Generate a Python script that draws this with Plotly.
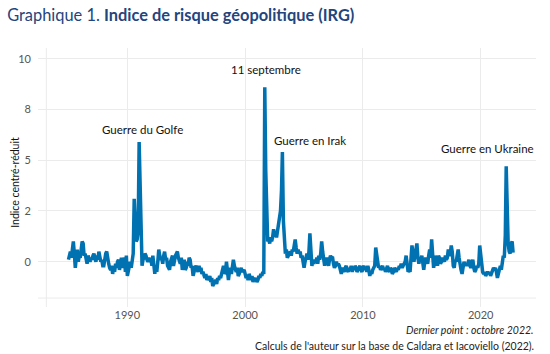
import plotly.graph_objects as go
import pandas as pd

# Monthly geopolitical risk index (standardized), Jan 1985 - Oct 2022
y1985 = [0.1, 0.3, 0.5, 0.2, 0.9, 1.0, 0.4, -0.3, 0.2, 0.6, 0.0, 0.3]
y1986 = [0.2, 0.5, 1.0, 0.9, 0.3, 0.4, 0.1, -0.1, 0.3, 0.2, 0.0, 0.2]
y1987 = [0.1, 0.3, 0.4, 0.2, 0.0, 0.3, 0.1, 0.5, 0.2, 0.0, 0.1, -0.2]
y1988 = [-0.2, 0.2, 0.4, 0.5, 0.0, -0.1, -0.3, -0.4, -0.2, -0.6, -0.3, -0.5]
y1989 = [-0.1, -0.3, 0.0, 0.1, -0.4, 0.0, 0.2, -0.3, 0.1, 0.2, -0.5, 0.3]
y1990 = [-0.7, -0.4, -0.2, 0.0, -0.3, 0.1, 0.4, 3.1, 1.2, 1.0, 1.1, 1.5]
y1991 = [5.9, 3.5, 0.9, -0.2, 0.1, 0.2, 0.4, 0.3, 0.1, 0.0, 0.2, 0.0]
y1992 = [0.1, -0.2, 0.3, -0.4, -0.6, -0.2, -0.5, 0.0, 0.6, 0.3, 0.1, 0.2]
y1993 = [-0.1, 0.3, 0.5, 0.1, 0.2, -0.2, -0.3, -0.4, 0.0, 0.1, 0.3, -0.2]
y1994 = [0.1, 0.3, 0.4, 0.5, 0.2, 0.0, -0.1, 0.2, -0.4, -0.2, 0.1, -0.4]
y1995 = [-0.3, 0.0, -0.2, 0.2, 0.1, -0.3, -0.2, -0.7, -0.4, -0.3, -0.2, -0.3]
y1996 = [-0.5, -0.2, -0.4, -0.3, -0.6, -0.5, -0.7, -0.8, -0.6, -0.9, -0.8, -0.9]
y1997 = [-0.7, -1.0, -0.8, -1.2, -1.1, -1.0, -0.9, -1.1, -0.8, -0.9, -0.7, -0.8]
y1998 = [-0.6, -0.3, -0.2, -0.6, -0.5, 0.0, -0.4, -0.9, -0.5, -0.3, -0.6, 0.0]
y1999 = [0.1, -0.2, -0.4, -0.5, -0.3, -0.7, -0.6, -0.4, -0.3, -0.5, -0.4, -0.4]
y2000 = [-0.6, -0.8, -0.7, -0.9, -0.6, -0.8, -0.9, -0.7, -1.0, -0.8, -0.9, -0.8]
y2001 = [-1.0, -0.9, -0.7, -0.8, -0.6, -0.7, -0.5, -0.6, 8.6, 4.5, 2.0, 1.0]
y2002 = [1.1, 0.9, 1.2, 1.0, 1.2, 1.6, 1.3, 1.4, 1.2, 1.5, 1.8, 2.2]
y2003 = [2.5, 3.5, 5.4, 2.0, 0.9, 0.4, 0.6, 0.2, 0.3, 0.4, 0.5, 0.3]
y2004 = [0.6, 0.5, 1.0, 1.1, 0.7, 0.4, 0.6, 0.4, 0.5, 0.2, 0.3, 0.0]
y2005 = [-0.3, 0.0, 0.2, 0.4, 0.1, 0.5, 1.4, 0.6, -0.2, 0.0, -0.1, 0.1]
y2006 = [0.0, 0.2, -0.1, 0.3, 0.1, 0.4, 1.0, 0.5, 0.0, -0.2, 0.1, 0.2]
y2007 = [0.0, -0.2, 0.1, 0.3, 0.2, 0.25, -0.1, -0.3, -0.2, 0.0, -0.2, -0.1]
y2008 = [-0.2, -0.4, -0.6, -0.3, -0.4, -0.5, -0.3, -0.2, -0.4, -0.5, -0.3, -0.4]
y2009 = [-0.2, -0.5, -0.3, -0.4, -0.2, -0.3, -0.5, -0.4, -0.3, -0.2, -0.4, -0.5]
y2010 = [-0.3, -0.2, -0.4, -0.3, -0.5, -0.2, -0.4, -0.7, -0.5, -0.6, -0.4, -0.3]
y2011 = [-0.2, 0.7, 0.3, -0.1, -0.3, -0.2, -0.4, -0.3, -0.2, -0.4, -0.3, -0.5]
y2012 = [-0.3, -0.2, -0.4, -0.5, -0.3, -0.4, -0.6, -0.5, -0.3, -0.4, -0.5, -0.3]
y2013 = [-0.4, -0.2, -0.3, -0.1, -0.3, -0.2, -0.1, 0.0, 0.3, -0.2, -0.5, -0.4]
y2014 = [-0.5, 0.2, 0.8, 0.4, 0.0, 0.3, 0.6, 0.9, 0.2, -0.1, 0.2, 0.1]
y2015 = [0.3, -0.2, -0.4, 0.0, 0.2, 0.1, -0.1, 0.3, 0.6, 0.2, 1.1, 0.4]
y2016 = [-0.3, 0.0, 0.3, 0.1, -0.2, 0.3, 0.2, -0.1, 0.0, 0.2, 0.1, 0.0]
y2017 = [0.3, 0.1, 0.2, 0.6, 0.3, 0.4, 0.8, 0.5, -0.2, -0.3, 0.1, 0.0]
y2018 = [0.3, 0.6, 0.2, -0.2, -0.4, -0.6, -0.3, 0.0, -0.2, -0.1, -0.2, 0.0]
y2019 = [0.1, -0.2, -0.3, -0.1, 0.1, -0.3, -0.5, -0.4, -0.2, -0.3, -0.1, 0.8]
y2020 = [0.3, -0.4, -0.5, -0.6, -0.5, -0.7, -0.6, -0.5, -0.6, -0.5, -0.7, -0.6]
y2021 = [-0.5, -0.3, -0.4, -0.3, -0.5, -0.8, -0.6, -0.3, -0.2, -0.4, -0.1, 0.3]
y2022 = [0.2, 1.3, 4.7, 2.2, 0.9, 0.5, 0.4, 0.9, 1.0, 0.45]

years = [y1985, y1986, y1987, y1988, y1989, y1990, y1991, y1992, y1993, y1994,
         y1995, y1996, y1997, y1998, y1999, y2000, y2001, y2002, y2003, y2004,
         y2005, y2006, y2007, y2008, y2009, y2010, y2011, y2012, y2013, y2014,
         y2015, y2016, y2017, y2018, y2019, y2020, y2021, y2022]
values = [v for yr in years for v in yr]
dates = pd.date_range("1985-01-01", periods=len(values), freq="MS")

ytick_vals = [0, 2.5, 5, 7.5, 10]
ytick_text = ["0", "2", "5", "8", "10"]
xtick_vals = ["1990-01-01", "2000-01-01", "2010-01-01", "2020-01-01"]
xtick_text = ["1990", "2000", "2010", "2020"]

events = ["Guerre du Golfe", "11 septembre", "Guerre en Irak", "Guerre en Ukraine"]
event_x = ["1991-04-01", "2001-10-15", "2005-07-01", "2020-08-10"]
event_y = [6.5, 9.45, 5.95, 5.6]

FONT = "Lato"
fig = go.Figure()
fig.add_trace(go.Scatter(x=dates, y=values, mode="lines",
                         line=dict(color="#0072B2", width=3.5), hoverinfo="skip"))

for t, ex, ey in zip(events, event_x, event_y):
    fig.add_annotation(x=ex, y=ey, text=t, showarrow=False,
                       font=dict(family=FONT, size=11.5, color="#111111"))

# light reference lines at lower/left panel edges
fig.add_shape(type="line", xref="x", yref="paper", x0="1983-02-15", x1="1983-02-15",
              y0=0, y1=1, line=dict(color="#EBEBEB", width=1), layer="below")
fig.add_shape(type="line", xref="paper", yref="y", x0=0, x1=1, y0=-1.79, y1=-1.79,
              line=dict(color="#EBEBEB", width=1), layer="below")

fig.update_layout(
    width=550, height=354,
    margin=dict(l=38, r=14, t=48, b=47),
    plot_bgcolor="white", paper_bgcolor="white",
    showlegend=False,
    font=dict(family=FONT, color="#555555"),
    title=dict(text="Graphique 1. <b>Indice de risque géopolitique (IRG)</b>",
               x=0.013, xanchor="left", y=0.957, yanchor="middle",
               font=dict(family=FONT, size=16.4, color="#23457E")),
    xaxis=dict(range=["1982-06-01", "2024-09-10"], tickvals=xtick_vals, ticktext=xtick_text,
               showgrid=True, gridcolor="#EBEBEB", gridwidth=1, zeroline=False,
               tickfont=dict(family=FONT, size=11, color="#555555"), ticks=""),
    yaxis=dict(range=[-2.23, 10.53], tickvals=ytick_vals, ticktext=ytick_text,
               showgrid=True, gridcolor="#EBEBEB", gridwidth=1, zeroline=False,
               tickfont=dict(family=FONT, size=11, color="#555555"), ticks="",
               ticklabelstandoff=6),
)

fig.add_annotation(xref="paper", yref="paper", x=-0.046, y=0.48, text="Indice centré-réduit",
                   textangle=-90, showarrow=False, xanchor="center", yanchor="middle",
                   font=dict(family=FONT, size=10.5, color="#111111"))
fig.add_annotation(xref="paper", yref="paper", x=1.0, y=-0.09, xanchor="right", yanchor="middle",
                   text="<i>Dernier point : octobre 2022.</i>", showarrow=False,
                   font=dict(family=FONT, size=10.5, color="#222222"))
fig.add_annotation(xref="paper", yref="paper", x=1.0, y=-0.15, xanchor="right", yanchor="middle",
                   text="Calculs de l'auteur sur la base de Caldara et Iacoviello (2022).", showarrow=False,
                   font=dict(family=FONT, size=10.5, color="#222222"))

fig.write_html("out.html")
